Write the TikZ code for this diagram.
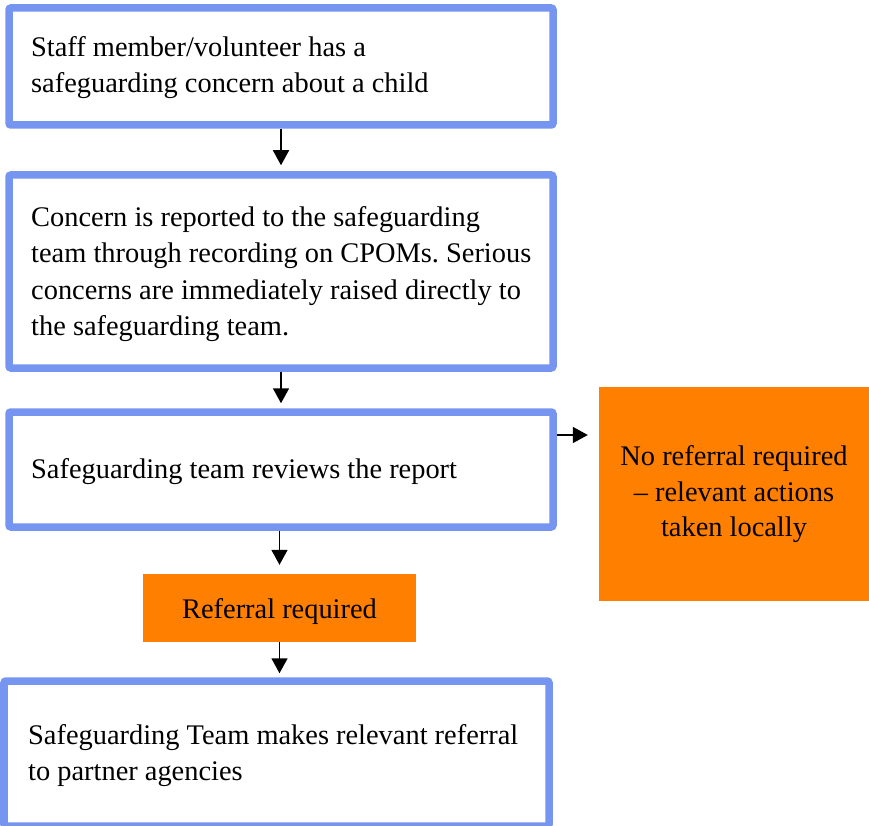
\documentclass[tikz,border=0pt]{standalone}
\usepackage{fontspec}
\setmainfont{Liberation Serif}
\usetikzlibrary{arrows.meta}
\definecolor{boxblue}{RGB}{118,149,240}
\definecolor{boxorange}{RGB}{255,128,0}
\frenchspacing
\tikzset{
  bluebox/.style={draw=boxblue, line width=7.5pt, fill=white, rounded corners=2pt, inner sep=0pt},
  orangebox/.style={fill=boxorange, inner sep=0pt},
  txt/.style={inner sep=0pt, anchor=base west, align=left, font=\fontsize{28.4}{36.5}\selectfont},
  ctxt/.style={inner sep=0pt, anchor=base, align=center, font=\fontsize{28.4}{35.5}\selectfont},
  arr/.style={line width=1.7pt, -{Triangle[length=15pt,width=16pt]}}
}
\begin{document}
\begin{tikzpicture}[x=1pt,y=-1pt]
\useasboundingbox (0,0) rectangle (869,826);
% boxes
\node[bluebox, minimum width=544pt, minimum height=117pt] (b1) at (281,66.5) {};
\node[bluebox, minimum width=544pt, minimum height=193pt] (b2) at (281,271.5) {};
\node[bluebox, minimum width=544pt, minimum height=115pt] (b3) at (281,469.5) {};
\node[orangebox, minimum width=273pt, minimum height=68pt] (ref) at (279.5,608) {};
\node[orangebox, minimum width=270pt, minimum height=214pt] (nr) at (734,494) {};
\node[bluebox, minimum width=545pt, minimum height=145pt] (b5) at (276.5,753.5) {};
% texts
\node[txt] (t1) at (31,93) {Staff member/volunteer has a\\safeguarding concern about a child};
\node[txt] (t2) at (31,335.5) {Concern is reported to the safeguarding\\team through recording on CPOMs. Serious\\concerns are immediately raised directly to\\the safeguarding team.};
\node[txt] (t3) at (31,478.5) {Safeguarding team reviews the report};
\node[ctxt] (t4) at (279.5,618.5) {Referral required};
\node[ctxt] (t5) at (734,536.5) {No referral required\\– relevant actions\\taken locally};
\node[txt] (t6) at (28,780.5) {Safeguarding Team makes relevant referral\\to partner agencies};
% connectors
\draw[arr, shorten >=6pt] (b1.south) -- (b2.north);
\draw[arr, shorten >=5pt] (b2.south) -- (b3.north);
\draw[arr, shorten >=9pt] (ref.north |- b3.south) -- (ref.north);
\draw[arr, shorten >=4pt] (ref.south) -- (ref.south |- b5.north);
\coordinate (ra) at (0,435);
\draw[arr, shorten >=11pt] (b3.east |- ra) -- (nr.west |- ra);
\end{tikzpicture}
\end{document}
